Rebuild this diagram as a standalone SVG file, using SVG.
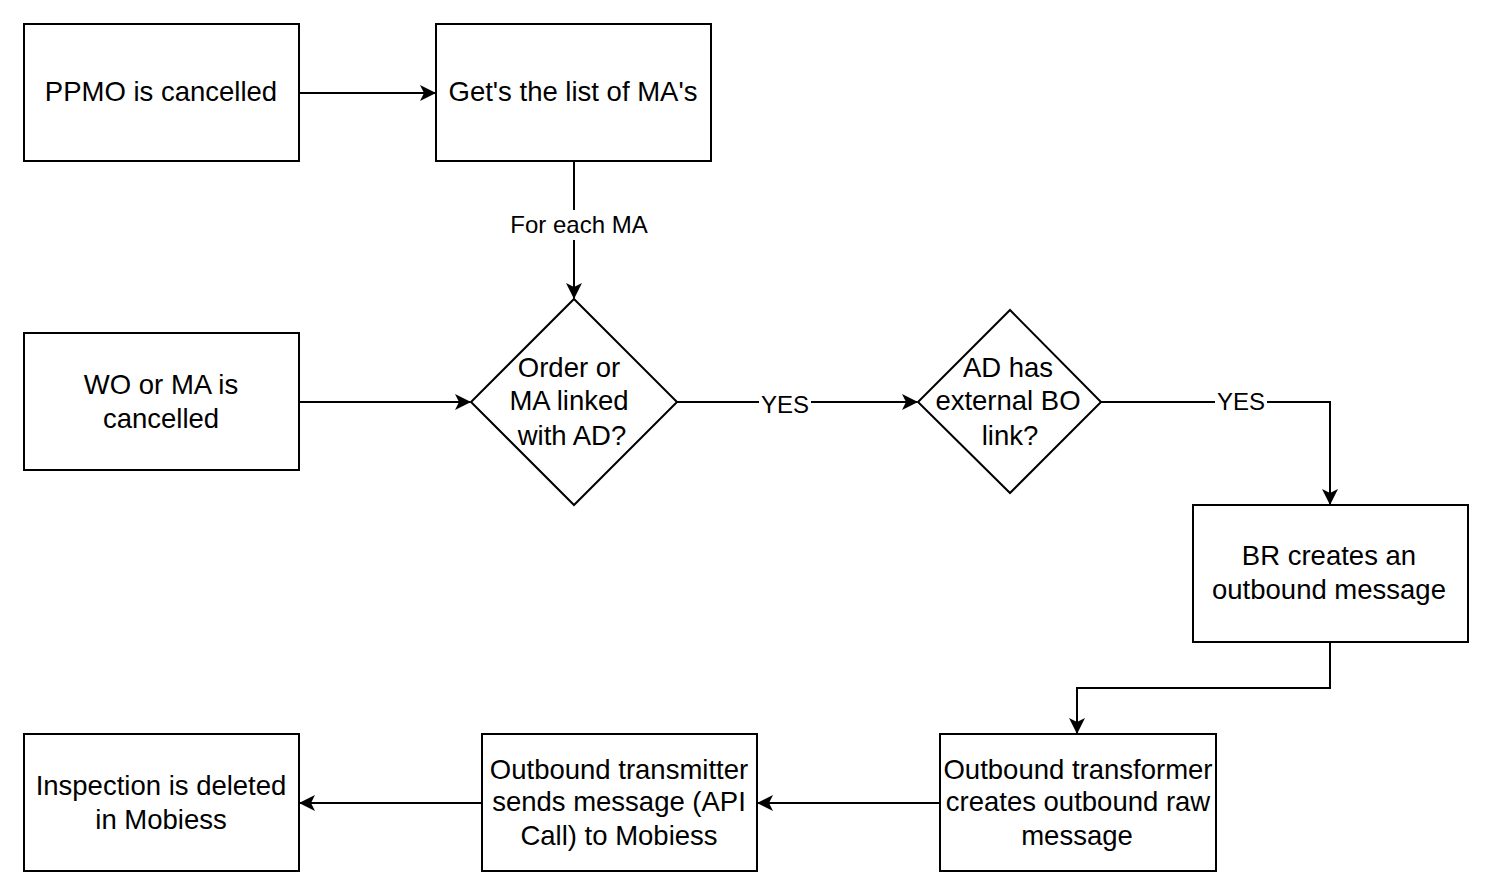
<svg xmlns="http://www.w3.org/2000/svg" width="1492" height="896" viewBox="0 0 1492 896">
<style>
.n{fill:#fff;stroke:#000;stroke-width:2}
.t{font-family:"Liberation Sans",Arial,sans-serif;font-size:27.5px;fill:#000;text-anchor:middle}
.l{font-family:"Liberation Sans",Arial,sans-serif;font-size:24px;fill:#000;text-anchor:middle}
.e{fill:none;stroke:#000;stroke-width:2}
</style>
<defs>
<marker id="a" viewBox="0 0 16 16" refX="15" refY="8" markerWidth="16" markerHeight="16" markerUnits="userSpaceOnUse" orient="auto">
<path d="M0,0 L16,8 L0,16 L4,8 Z" fill="#000"/>
</marker>
</defs>
<rect width="1492" height="896" fill="#fff"/>
<g id="connectors">
<path class="e" d="M299,93 H435" marker-end="url(#a)"/>
<path class="e" d="M574,161 V298" marker-end="url(#a)"/>
<path class="e" d="M299,402 H470" marker-end="url(#a)"/>
<path class="e" d="M677,402 H917" marker-end="url(#a)"/>
<path class="e" d="M1101,402 H1330 V504" marker-end="url(#a)"/>
<path class="e" d="M1330,642 V688 H1077 V733" marker-end="url(#a)"/>
<path class="e" d="M940,803 H758" marker-end="url(#a)"/>
<path class="e" d="M482,803 H300" marker-end="url(#a)"/>
<rect x="505" y="210" width="148" height="30" fill="#fff"/>
<text class="l" x="579" y="233">For each MA</text>
<rect x="759" y="390" width="52" height="26" fill="#fff"/>
<text class="l" x="785" y="413">YES</text>
<rect x="1215" y="389" width="52" height="26" fill="#fff"/>
<text class="l" x="1241" y="410">YES</text>
</g>
<g id="ppmo"><rect class="n" x="24" y="24" width="275" height="137"/><text class="t" x="161" y="101">PPMO is cancelled</text></g>
<g id="getlist"><rect class="n" x="436" y="24" width="275" height="137"/><text class="t" x="573" y="101">Get's the list of MA's</text></g>
<g id="wo"><rect class="n" x="24" y="333" width="275" height="137"/><text class="t" x="161" y="394">WO or MA is</text><text class="t" x="161" y="428">cancelled</text></g>
<g id="d1"><polygon class="n" points="574,299 677,402 574,505 471,402"/><text class="t" x="569" y="377">Order or</text><text class="t" x="569" y="410">MA linked</text><text class="t" x="572" y="445">with AD?</text></g>
<g id="d2"><polygon class="n" points="1010,310 1101,402 1010,493 918,402"/><text class="t" x="1008" y="377">AD has</text><text class="t" x="1008" y="410">external BO</text><text class="t" x="1010" y="445">link?</text></g>
<g id="br"><rect class="n" x="1193" y="505" width="275" height="137"/><text class="t" x="1329" y="565">BR creates an</text><text class="t" x="1329" y="599">outbound message</text></g>
<g id="transformer"><rect class="n" x="940" y="734" width="276" height="137"/><text class="t" x="1078" y="779">Outbound transformer</text><text class="t" x="1078" y="811">creates outbound raw</text><text class="t" x="1077" y="845">message</text></g>
<g id="transmitter"><rect class="n" x="482" y="734" width="275" height="137"/><text class="t" x="619" y="779">Outbound transmitter</text><text class="t" x="619" y="811">sends message (API</text><text class="t" x="619" y="845">Call) to Mobiess</text></g>
<g id="inspection"><rect class="n" x="24" y="734" width="275" height="137"/><text class="t" x="161" y="795">Inspection is deleted</text><text class="t" x="161" y="829">in Mobiess</text></g>
</svg>
